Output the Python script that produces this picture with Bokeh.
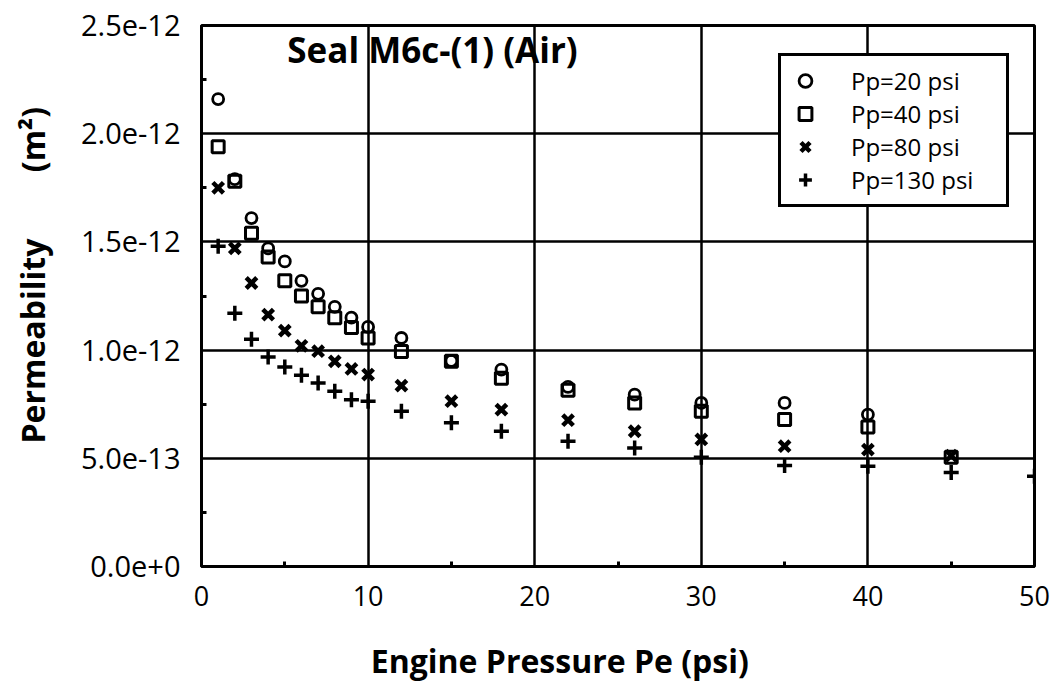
from bokeh.plotting import figure
from bokeh.models import Range1d, FixedTicker, CustomJSTickFormatter, Legend, LegendItem, Label
from bokeh.embed import file_html
from bokeh.resources import INLINE

# Data (permeability in m^2 vs engine pressure Pe in psi)
pe_20 = [1, 2, 3, 4, 5, 6, 7, 8, 9, 10, 12, 15, 18, 22, 26, 30, 35, 40]
k_20 = [2.16e-12, 1.79e-12, 1.61e-12, 1.47e-12, 1.41e-12, 1.32e-12, 1.26e-12, 1.20e-12, 1.15e-12,
        1.107e-12, 1.056e-12, 0.95e-12, 0.91e-12, 0.83e-12, 0.794e-12, 0.756e-12, 0.756e-12, 0.702e-12]

pe_40 = [1, 2, 3, 4, 5, 6, 7, 8, 9, 10, 12, 15, 18, 22, 26, 30, 35, 40, 45]
k_40 = [1.94e-12, 1.78e-12, 1.54e-12, 1.43e-12, 1.32e-12, 1.25e-12, 1.20e-12, 1.15e-12, 1.105e-12,
        1.056e-12, 0.994e-12, 0.948e-12, 0.87e-12, 0.815e-12, 0.756e-12, 0.717e-12, 0.679e-12, 0.645e-12, 0.505e-12]

pe_80 = [1, 2, 3, 4, 5, 6, 7, 8, 9, 10, 12, 15, 18, 22, 26, 30, 35, 40, 45]
k_80 = [1.75e-12, 1.47e-12, 1.31e-12, 1.164e-12, 1.09e-12, 1.02e-12, 0.995e-12, 0.948e-12, 0.913e-12,
        0.887e-12, 0.836e-12, 0.764e-12, 0.725e-12, 0.676e-12, 0.625e-12, 0.587e-12, 0.556e-12, 0.54e-12, 0.512e-12]

pe_130 = [1, 2, 3, 4, 5, 6, 7, 8, 9, 10, 12, 15, 18, 22, 26, 30, 35, 40, 45, 50]
k_130 = [1.48e-12, 1.17e-12, 1.05e-12, 0.968e-12, 0.922e-12, 0.884e-12, 0.848e-12, 0.81e-12, 0.771e-12,
         0.764e-12, 0.717e-12, 0.664e-12, 0.625e-12, 0.579e-12, 0.548e-12, 0.505e-12, 0.467e-12, 0.463e-12,
         0.434e-12, 0.417e-12]

series_labels = ["Pp=20 psi", "Pp=40 psi", "Pp=80 psi", "Pp=130 psi"]
x_ticks = [0, 10, 20, 30, 40, 50]
x_minor = [5, 15, 25, 35, 45]
y_ticks = [0.0, 0.5e-12, 1.0e-12, 1.5e-12, 2.0e-12, 2.5e-12]
y_minor = [0.25e-12, 0.75e-12, 1.25e-12, 1.75e-12, 2.25e-12]
title_text = "Seal M6c-(1) (Air)"
x_label = "Engine Pressure Pe (psi)" + "\u00a0" * 14
y_label = "\u00a0" * 5 + "Permeability" + "\u00a0" * 8 + "(m\u00b2)"

FONT = "Open Sans"

p = figure(width=1051, height=686, output_backend="svg", toolbar_location=None,
           x_range=Range1d(0, 50), y_range=Range1d(0, 2.5e-12),
           min_border_left=201, min_border_right=17, min_border_top=25, min_border_bottom=120)
p.background_fill_color = "white"
p.border_fill_color = "white"
p.outline_line_color = "black"
p.outline_line_width = 3

for ax in (p.xaxis[0], p.yaxis[0]):
    ax.axis_line_color = "black"
    ax.axis_line_width = 3
    ax.major_tick_in = 0
    ax.major_tick_out = 0
    ax.minor_tick_in = 5
    ax.minor_tick_out = 0
    ax.minor_tick_line_color = "black"
    ax.minor_tick_line_width = 3
    ax.major_label_text_font = FONT
    ax.major_label_text_color = "black"
    ax.axis_label_text_font = FONT
    ax.axis_label_text_font_style = "bold"
    ax.axis_label_text_color = "black"

p.xaxis.major_label_text_font_size = "27px"
p.yaxis.major_label_text_font_size = "29px"
p.xaxis.ticker = FixedTicker(ticks=x_ticks, minor_ticks=x_minor)
p.yaxis.ticker = FixedTicker(ticks=y_ticks, minor_ticks=y_minor)
p.yaxis.formatter = CustomJSTickFormatter(code="return tick.toExponential(1);")
p.xaxis.major_label_standoff = 19
p.yaxis.major_label_standoff = 21
p.xaxis.axis_label = x_label
p.yaxis.axis_label = y_label
p.xaxis.axis_label_text_font_size = "32px"
p.yaxis.axis_label_text_font_size = "32px"
p.xaxis.axis_label_standoff = 30
p.yaxis.axis_label_standoff = 24

p.xgrid.ticker = FixedTicker(ticks=x_ticks)
p.ygrid.ticker = FixedTicker(ticks=y_ticks)
for g in (p.xgrid[0], p.ygrid[0]):
    g.grid_line_color = "black"
    g.grid_line_width = 2.5
    g.grid_line_alpha = 1.0

r1 = p.scatter(pe_20, k_20, marker="circle", size=11, fill_color=None, line_color="black", line_width=2.8)
r2 = p.scatter(pe_40, k_40, marker="square", size=12, fill_color=None, line_color="black", line_width=3)
r3 = p.scatter(pe_80, k_80, marker="x", size=15, line_color="black", line_width=4.5)
r4 = p.scatter(pe_130, k_130, marker="cross", size=15, line_color="black", line_width=3.5)

legend = Legend(items=[LegendItem(label=series_labels[0], renderers=[r1]),
                       LegendItem(label=series_labels[1], renderers=[r2]),
                       LegendItem(label=series_labels[2], renderers=[r3]),
                       LegendItem(label=series_labels[3] + "\u00a0" * 4, renderers=[r4])],
                location=(577, 359))
legend.border_line_color = "black"
legend.border_line_width = 3
legend.border_line_alpha = 1.0
legend.background_fill_color = "white"
legend.background_fill_alpha = 1.0
legend.label_text_font = FONT
legend.label_text_font_size = "24px"
legend.label_text_color = "black"
legend.label_height = 33
legend.glyph_height = 33
legend.glyph_width = 32
legend.label_standoff = 30
legend.padding = 8
legend.spacing = 0
legend.margin = 0
p.add_layout(legend, "center")

p.add_layout(Label(x=5.15, y=2.39e-12, text=title_text, text_font=FONT, text_font_style="bold",
                   text_font_size="35px", text_baseline="middle", text_align="left", text_color="black"))

open("out.html", "w").write(file_html(p, INLINE))
